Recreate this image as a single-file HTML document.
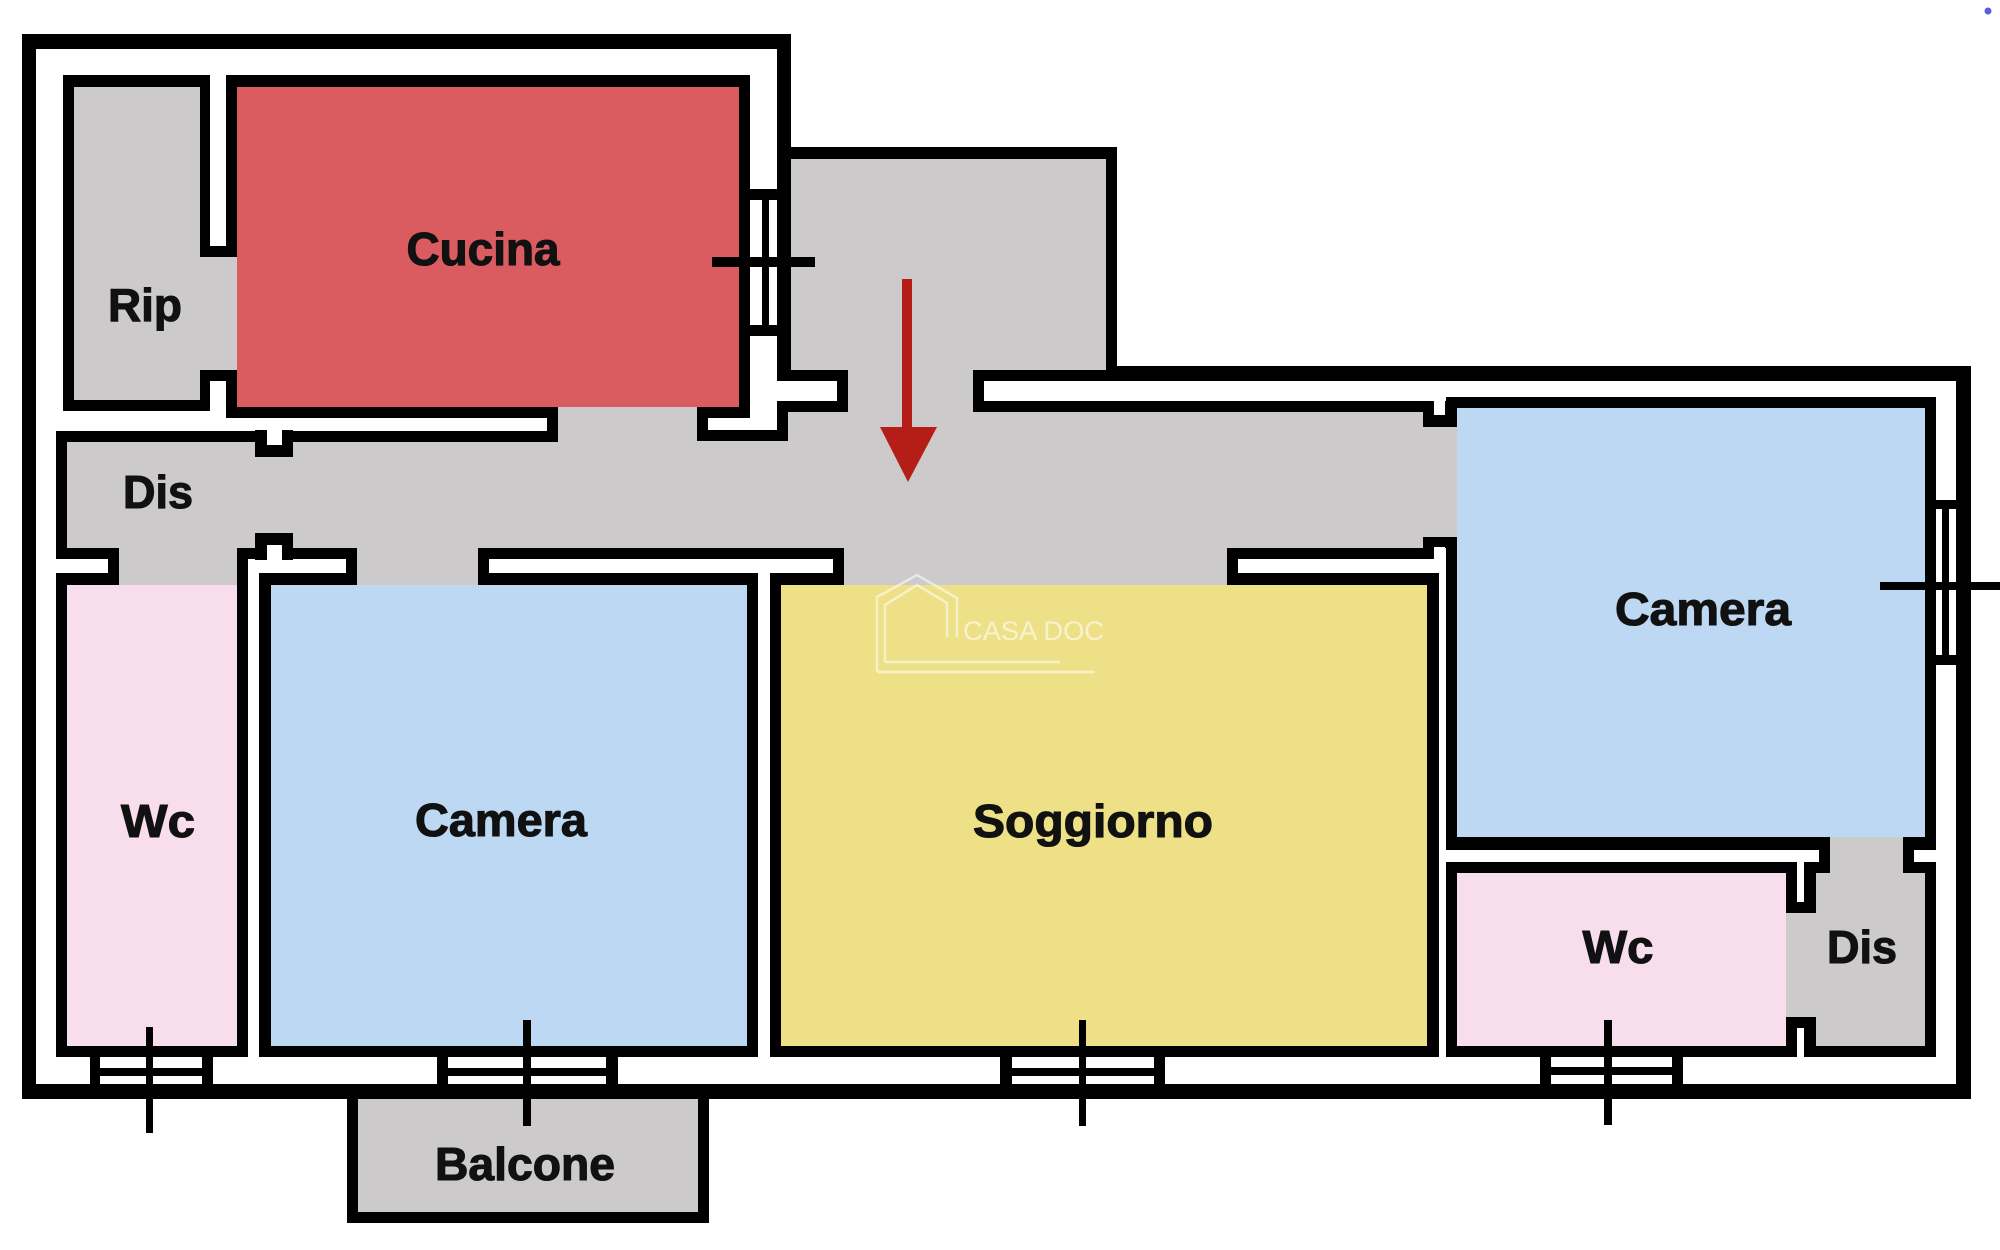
<!DOCTYPE html>
<html>
<head>
<meta charset="utf-8">
<style>
  html,body{margin:0;padding:0;background:#fff;}
  svg{display:block;}
  text{font-family:"Liberation Sans",Arial,sans-serif;font-weight:bold;font-size:46px;fill:#111;}
  text.lbl{stroke:#111;stroke-width:1.1px;}
</style>
</head>
<body>
<svg width="2000" height="1250" viewBox="0 0 2000 1250" xmlns="http://www.w3.org/2000/svg">
  <rect x="0" y="0" width="2000" height="1250" fill="#ffffff"/>

  <!-- outer footprint -->
  <polygon points="22,34 791,34 791,147 1117,147 1117,366 1971,366 1971,1099 22,1099" fill="#000"/>
  <polygon points="36,49 777,49 777,381 1956,381 1956,1084 36,1084" fill="#fff"/>

  <!-- balcony -->
  <rect x="347" y="1084" width="362" height="139" fill="#000"/>
  <rect x="358" y="1099" width="340" height="113" fill="#cccaca"/>

  <!-- black outlines (expansions) -->
  <g fill="#000">
    <rect x="63" y="75" width="147" height="336"/>
    <rect x="199" y="246" width="38" height="135"/>
    <rect x="226" y="75" width="524" height="343"/>
    <!-- corridor pieces -->
    <rect x="56" y="431" width="513" height="128"/>
    <rect x="547" y="396" width="161" height="163"/>
    <rect x="686" y="430" width="113" height="129"/>
    <rect x="777" y="401" width="82" height="158"/>
    <rect x="780" y="148" width="337" height="233"/>
    <rect x="837" y="359" width="147" height="200"/>
    <rect x="962" y="401" width="472" height="158"/>
    <rect x="1423" y="401" width="34" height="147"/>
    <rect x="108" y="537" width="140" height="59"/>
    <rect x="346" y="537" width="143" height="59"/>
    <rect x="833" y="537" width="405" height="59"/>
    <!-- rooms -->
    <rect x="56" y="573" width="192" height="484"/>
    <rect x="259" y="573" width="499" height="484"/>
    <rect x="770" y="573" width="669" height="484"/>
    <rect x="1446" y="397" width="490" height="453"/>
    <rect x="1446" y="862" width="351" height="195"/>
    <rect x="1804" y="862" width="132" height="195"/>
    <rect x="1819" y="826" width="95" height="58"/>
    <rect x="1775" y="902" width="52" height="126"/>
  </g>

  <!-- fills -->
  <g fill="#cccaca">
    <rect x="74" y="87" width="126" height="313"/>
    <rect x="200" y="257" width="37" height="113"/>
    <rect x="67" y="442" width="491" height="106"/>
    <rect x="558" y="407" width="139" height="141"/>
    <rect x="697" y="441" width="91" height="107"/>
    <rect x="788" y="412" width="60" height="136"/>
    <rect x="791" y="159" width="315" height="211"/>
    <rect x="848" y="370" width="125" height="178"/>
    <rect x="973" y="412" width="450" height="136"/>
    <rect x="1423" y="427" width="34" height="110"/>
    <rect x="119" y="548" width="118" height="37"/>
    <rect x="357" y="548" width="121" height="37"/>
    <rect x="844" y="548" width="383" height="37"/>
    <rect x="1816" y="873" width="109" height="173"/>
    <rect x="1830" y="837" width="73" height="36"/>
    <rect x="1786" y="913" width="30" height="104"/>
  </g>
  <rect x="237" y="87" width="502" height="320" fill="#da5c61"/>
  <rect x="67" y="585" width="170" height="461" fill="#f8ddec"/>
  <rect x="271" y="585" width="476" height="461" fill="#bdd8f3"/>
  <rect x="781" y="585" width="646" height="461" fill="#eee086"/>
  <rect x="1457" y="408" width="468" height="429" fill="#bdd8f3"/>
  <rect x="1457" y="873" width="329" height="173" fill="#f8ddec"/>

  <!-- white stubs / notches -->
  <rect x="1434" y="381" width="11" height="34" fill="#fff"/>
  <rect x="1434" y="547" width="11" height="26" fill="#fff"/>
  <rect x="1914" y="850" width="42" height="12" fill="#fff"/>
  <rect x="255" y="430" width="38" height="27" fill="#000"/>
  <rect x="267" y="419" width="15" height="26" fill="#fff"/>
  <rect x="255" y="533" width="38" height="27" fill="#000"/>
  <rect x="267" y="545" width="15" height="28" fill="#fff"/>

  <!-- windows -->
  <g fill="#000">
    <!-- kitchen window -->
    <rect x="739" y="189" width="52" height="11"/>
    <rect x="739" y="325" width="52" height="11"/>
    <rect x="762" y="200" width="7" height="125"/>
    <rect x="712" y="257" width="103" height="10"/>
    <!-- right camera window -->
    <rect x="1925" y="500" width="46" height="9"/>
    <rect x="1925" y="655" width="46" height="10"/>
    <rect x="1942" y="509" width="7" height="146"/>
    <rect x="1880" y="582" width="120" height="8"/>
    <!-- Wc left -->
    <rect x="90" y="1057" width="10" height="27"/>
    <rect x="202" y="1057" width="11" height="27"/>
    <rect x="90" y="1068" width="123" height="8"/>
    <rect x="146" y="1027" width="7" height="106"/>
    <!-- Camera left -->
    <rect x="437" y="1057" width="11" height="27"/>
    <rect x="606" y="1057" width="12" height="27"/>
    <rect x="437" y="1068" width="181" height="8"/>
    <rect x="523" y="1020" width="8" height="106"/>
    <!-- Soggiorno -->
    <rect x="1000" y="1057" width="12" height="27"/>
    <rect x="1154" y="1057" width="11" height="27"/>
    <rect x="1000" y="1068" width="165" height="8"/>
    <rect x="1079" y="1020" width="7" height="106"/>
    <!-- Wc right -->
    <rect x="1540" y="1057" width="11" height="27"/>
    <rect x="1672" y="1057" width="11" height="27"/>
    <rect x="1540" y="1067" width="143" height="8"/>
    <rect x="1604" y="1020" width="8" height="105"/>
  </g>

  <!-- watermark -->
  <g opacity="0.55" fill="none" stroke="#ffffff" stroke-width="2.5">
    <polyline points="877,672 877,597 917,575 957,598 957,637"/>
    <polyline points="885,662 885,605 917,585 947,603 947,637"/>
    <line x1="885" y1="662" x2="1060" y2="662"/>
    <line x1="877" y1="672" x2="1095" y2="672"/>
  </g>
  <text x="963" y="640" style="font-weight:normal;font-size:27px;fill:#ffffff;opacity:0.6" textLength="141" lengthAdjust="spacingAndGlyphs">CASA DOC</text>

  <!-- arrow -->
  <rect x="902" y="279" width="10" height="152" fill="#b51e16"/>
  <polygon points="880,427 937,427 908,482" fill="#b51e16"/>

  <!-- labels -->
  <text class="lbl" x="145" y="321" text-anchor="middle" textLength="74" lengthAdjust="spacingAndGlyphs">Rip</text>
  <text class="lbl" x="483" y="265" text-anchor="middle" textLength="153" lengthAdjust="spacingAndGlyphs">Cucina</text>
  <text class="lbl" x="158" y="508" text-anchor="middle" textLength="70" lengthAdjust="spacingAndGlyphs">Dis</text>
  <text class="lbl" x="158" y="837" text-anchor="middle" textLength="74" lengthAdjust="spacingAndGlyphs">Wc</text>
  <text class="lbl" x="501" y="836" text-anchor="middle" textLength="172" lengthAdjust="spacingAndGlyphs">Camera</text>
  <text class="lbl" x="1093" y="837" text-anchor="middle" textLength="240" lengthAdjust="spacingAndGlyphs">Soggiorno</text>
  <text class="lbl" x="1703" y="625" text-anchor="middle" textLength="176" lengthAdjust="spacingAndGlyphs">Camera</text>
  <text class="lbl" x="1618" y="963" text-anchor="middle" textLength="71" lengthAdjust="spacingAndGlyphs">Wc</text>
  <text class="lbl" x="1862" y="963" text-anchor="middle" textLength="70" lengthAdjust="spacingAndGlyphs">Dis</text>
  <text class="lbl" x="525" y="1180" text-anchor="middle" textLength="180" lengthAdjust="spacingAndGlyphs">Balcone</text>

  <!-- small dot -->
  <circle cx="1988" cy="11" r="3.5" fill="#5b5de0"/>
</svg>
</body>
</html>
